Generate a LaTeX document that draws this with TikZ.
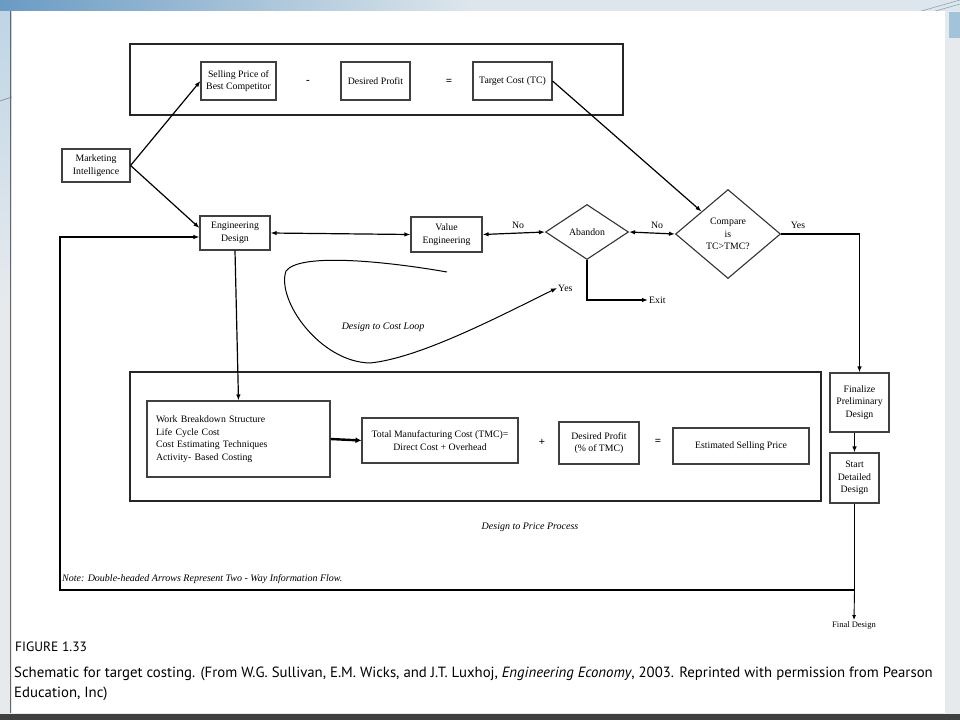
\documentclass[tikz,border=0pt]{standalone}
\usepackage{fontspec}
\setmainfont{Liberation Serif}
\newfontfamily\capfont{PT Sans}
\usetikzlibrary{arrows.meta,shapes.geometric}

\definecolor{banddark}{HTML}{6A9BC3}
\definecolor{bandlight}{HTML}{DDE6EC}
\definecolor{sidegray}{HTML}{E6EAED}
\definecolor{sideblue}{HTML}{A3C3DA}

\tikzset{
	boxnode/.style={draw=black!75, line width=1.1pt, fill=white, align=center, inner sep=2pt, font=\fontsize{9.8}{12.5}\selectfont},
	decision/.style={diamond, draw=black!80, line width=1.1pt, fill=white, inner sep=0pt, align=center, font=\fontsize{9.8}{12.5}\selectfont},
	frame/.style={draw=black!85, line width=2pt},
	flow/.style={line width=1.2pt, -{Latex[length=6pt,width=4.5pt]}},
	twoway/.style={line width=1.2pt, {Latex[length=6pt,width=4.5pt]}-{Latex[length=6pt,width=4.5pt]}},
	tag/.style={inner sep=1pt, font=\fontsize{9.8}{12}\selectfont},
	sign/.style={inner sep=1pt, font=\fontsize{11}{12}\selectfont\bfseries},
}

\begin{document}
\begin{tikzpicture}[x=1pt, y=-1pt]
			%%%%% SLIDE %%%%%
			\useasboundingbox (0,0) rectangle (960,720);
			\fill[sidegray] (0,0) rectangle (960,720);
			\shade[left color=banddark, right color=bandlight] (0,0) rectangle (470,11);
			\fill[bandlight] (470,0) rectangle (960,11);
			\shade[top color=sideblue!70, bottom color=sidegray] (0,11) rectangle (12,300);
			\fill[sideblue] (949,12) rectangle (960,38);
			\draw[sideblue!80!black, line width=0.5pt] (918,12) -- (960,0);
			\draw[sideblue!80!black, line width=0.5pt] (932,12) -- (960,4);
			\draw[black!50, line width=0.5pt] (0,101) -- (12,97);
			\fill[white] (12,11) rectangle (945,713);
			\draw[black!60, line width=0.8pt] (10,11) -- (10,713);
			\fill[black!75] (0,714) rectangle (960,720);

			%%%%% TARGET COST %%%%%
			\draw[frame] (130,44) rectangle (623,115);
			\node[boxnode, minimum width=75pt, minimum height=38pt] (sellprice) at (238.5,81) {Selling Price of\\Best Competitor};
			\node[sign] (minus) at (308,82) {-};
			\node[boxnode, minimum width=69pt, minimum height=38pt] (profit) at (375.5,81) {Desired Profit};
			\node[sign] (equals) at (449,82) {=};
			\node[boxnode, minimum width=79pt, minimum height=38pt] (target) at (512.5,81) {Target Cost (TC)};

			\node[boxnode, minimum width=68pt, minimum height=33pt] (market) at (96,165.5) {Marketing\\Intelligence};
			\node[boxnode, minimum width=70pt, minimum height=34pt] (engdesign) at (235,233) {Engineering\\Design};
			\node[boxnode, minimum width=71pt, minimum height=35pt] (valueeng) at (446.5,234.5) {Value\\Engineering};
			\node[decision, minimum width=83pt, minimum height=55pt] (abandon) at (587,232) {Abandon};
			\node[decision, minimum width=105pt, minimum height=89pt] (compare) at (728,234) {Compare\\is\\TC>TMC?};

			\node[tag] (noleft) at (518,225) {No};
			\node[tag] (noright) at (657,225) {No};
			\node[tag] (yescmp) at (798,225) {Yes};
			\node[tag, anchor=west] (exit) at (648,300) {Exit};
			\node[tag, anchor=west] (yesloop) at (557,288) {Yes};

			\draw[flow] (market.east) -- (sellprice.west);
			\draw[flow] (market.east) -- ([yshift=5pt]engdesign.west);
			\draw[flow] (target.east) -- (compare.north west);
			\draw[twoway] (engdesign.east) -- (valueeng.west);
			\draw[twoway] (valueeng.east) -- (abandon.west);
			\draw[twoway] (abandon.east) -- (compare.west);
			\draw[flow] (abandon.south) |- (exit.west);

			% design to cost loop
			\draw[line width=1pt, -{Latex[length=6pt,width=4.5pt]}] (447,272) .. controls (390,262) and (300,252) .. (286,271) .. controls (276,300) and (320,362) .. (370,363) .. controls (420,358) and (500,316) .. (yesloop.west);
			\node[font=\fontsize{10}{12}\selectfont\itshape] (costloop) at (383,327) {Design to Cost Loop};

			%%%%% PRICE PROCESS %%%%%
			\draw[frame] (130,372) rectangle (821,501);
			\node[boxnode, align=left, text width=165pt, inner xsep=9pt, minimum height=76pt] (breakdown) at (238.5,439) {Work Breakdown Structure\\Life Cycle Cost\\Cost Estimating Techniques\\Activity- Based Costing};
			\node[boxnode, minimum width=156pt, minimum height=45pt] (totalcost) at (440,440.5) {Total Manufacturing Cost (TMC)=\\Direct Cost + Overhead};
			\node[sign] (plus) at (542,442) {+};
			\node[boxnode, minimum width=80pt, minimum height=42pt] (profitpct) at (599,443) {Desired Profit\\(\% of TMC)};
			\node[sign] (equalsb) at (658,442) {=};
			\node[boxnode, minimum width=136pt, minimum height=36pt] (estprice) at (741,446) {Estimated Selling Price};
			\node[font=\fontsize{10}{12}\selectfont\itshape] (pricelabel) at (530,527) {Design to Price Process};

			\draw[flow] (engdesign.south) -- (breakdown.north);
			\draw[line width=2.4pt, -{Latex[length=6pt,width=6pt]}] (breakdown.east) -- (totalcost.west);

			%%%%% FINAL STEPS %%%%%
			\node[boxnode, minimum width=59pt, minimum height=59pt] (finalize) at (859.5,402.5) {Finalize\\Preliminary\\Design};
			\node[boxnode, minimum width=49pt, minimum height=50pt] (detailed) at (854.5,478) {Start\\Detailed\\Design};
			\node[tag, font=\fontsize{8.5}{10}\selectfont, anchor=north] (finaldesign) at (854,620) {Final Design};

			\draw[line width=1.8pt, -{Latex[length=6pt,width=4.5pt]}] (compare.east) -| (finalize.north);
			\draw[flow] (finalize.south -| detailed.north) -- (detailed.north);

			\coordinate (junction) at (detailed.south |- 0,590);
			\coordinate (corner) at (60,590);
			\draw[line width=1.2pt] (detailed.south) -- (junction);
			\draw[line width=0.9pt, -{Latex[length=5pt,width=4pt]}] (junction) -- (finaldesign.north);
			\draw[flow] (junction) -- (corner) |- ([yshift=-4pt]engdesign.west);

			\node[anchor=base west, inner sep=0pt, font=\fontsize{10}{12}\selectfont\itshape] (note) at (62,581) {Note: Double-headed Arrows Represent Two - Way Information Flow.};

			%%%%% CAPTION %%%%%
			\node[anchor=base west, inner sep=0pt, font=\capfont\fontsize{13.5}{16}\selectfont] (figno) at (15,651) {FIGURE 1.33};
			\node[anchor=base west, inner sep=0pt, font=\capfont\fontsize{14.8}{17}\selectfont] (capone) at (14,677) {Schematic for target costing. (From W.G. Sullivan, E.M. Wicks, and J.T. Luxhoj, \textit{Engineering Economy}, 2003. Reprinted with permission from Pearson};
			\node[anchor=base west, inner sep=0pt, font=\capfont\fontsize{14.8}{17}\selectfont] (captwo) at (14,697) {Education, Inc)};
\end{tikzpicture}
\end{document}
